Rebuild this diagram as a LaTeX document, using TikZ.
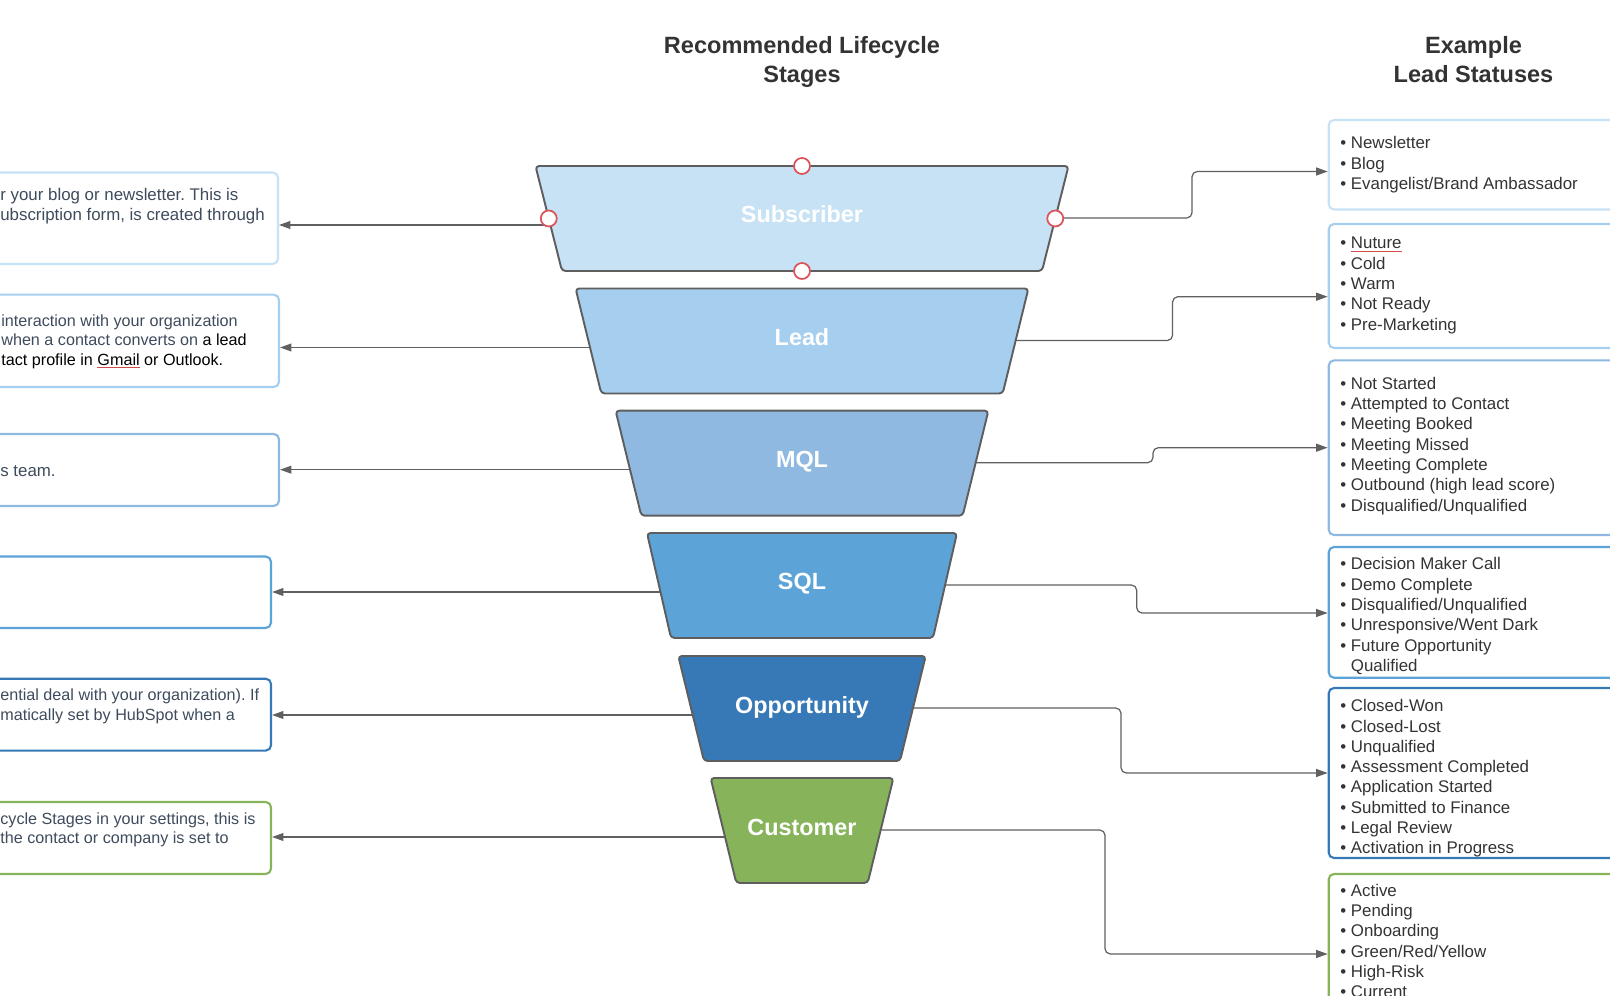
\documentclass[tikz,border=0pt]{standalone}
\usepackage{fontspec}
\setmainfont{Liberation Sans}
\usetikzlibrary{arrows.meta,calc,fit}
\definecolor{cSub}{HTML}{C8E2F5}
\definecolor{cLead}{HTML}{A6CEEF}
\definecolor{cMql}{HTML}{8FB9E1}
\definecolor{cSql}{HTML}{5CA3D8}
\definecolor{cOpp}{HTML}{3779B7}
\definecolor{cCus}{HTML}{87B45A}
\definecolor{cEdge}{HTML}{5E5E5E}
\definecolor{cLine}{HTML}{606060}
\definecolor{cSlate}{HTML}{3E4B5C}
\definecolor{cInk}{HTML}{333333}
\definecolor{cTitle}{HTML}{333333}
\definecolor{cHandle}{HTML}{D9545A}
\definecolor{cSpell}{HTML}{D14B4B}
\newcommand{\spellmark}[2][cInk]{{\color{cSpell}\underline{\color{#1}#2}}}
\frenchspacing
\begin{document}
\begin{tikzpicture}[x=0.02cm, y=-0.02cm, line join=round,
    stage/.style={draw=cEdge, line width=1.1pt, rounded corners=2pt},
    stagelabel/.style={anchor=base, inner sep=0pt, text=white, font=\bfseries\fontsize{13.3}{16}\selectfont},
    lbox/.style={rectangle, rounded corners=3pt, line width=1.2pt, inner sep=0pt},
    ltext/.style={anchor=north west, align=left, inner sep=0pt, text=cSlate, font=\fontsize{9.6}{11.57}\selectfont, execute at begin node=\strut},
    lsmall/.style={ltext, font=\fontsize{9.2}{11.1}\selectfont},
    rtext/.style={ltext, text=cInk},
    ttl/.style={anchor=north, align=center, inner sep=0pt, text=cTitle, font=\bfseries\fontsize{13.4}{16.3}\selectfont, execute at begin node=\strut},
    conn/.style={draw=cLine, line width=0.7pt, -{Triangle[length=6.5pt,width=4.5pt]}},
    handle/.style={circle, draw=cHandle, fill=white, line width=1pt, inner sep=0pt, minimum size=3.2mm}]
\useasboundingbox (0,0) rectangle (1610,996);
\clip (0,0) rectangle (1610,996);
% titles
\node[ttl] (ttlStage) at (802,36.5) {Recommended Lifecycle\\Stages};
\node[ttl] (ttlStatus) at (1473.5,36.5) {Example\\Lead Statuses};
% funnel
\foreach \nm/\lab/\col/\yt/\wt/\wb in {sub/Subscriber/cSub/166/266.5/240, lead/Lead/cLead/288.5/226.4/200.7, mql/MQL/cMql/410.7/186.4/160.7, sql/SQL/cSql/533/155/131, opp/Opportunity/cOpp/656/123.7/98, cus/Customer/cCus/778/91.4/65.7}{
  \draw[stage, fill=\col] (802-\wt,\yt) coordinate (\nm-tl) -- (802+\wt,\yt) coordinate (\nm-tr)
    -- (802+\wb,\yt+105) coordinate (\nm-br) -- (802-\wb,\yt+105) coordinate (\nm-bl) -- cycle;
  \node[stagelabel] (\nm) at (802,\yt+57) {\lab};
  \coordinate (\nm-w) at ($(\nm-tl)!59/105!(\nm-bl)$);
  \coordinate (\nm-e) at ($(\nm-tr)!52/105!(\nm-br)$);
}
% left boxes
\node[lbox, draw=cSub, fit={(-100,172.5) (278,264)}] (lb1) {};
\node[lbox, draw=cLead, fit={(-100,294.7) (279,387)}] (lb2) {};
\node[lbox, draw=cMql, fit={(-100,434) (279,506)}] (lb3) {};
\node[lbox, draw=cSql, fit={(-100,556.5) (271,628)}] (lb4) {};
\node[lbox, draw=cOpp, fit={(-100,678.7) (271,750.6)}] (lb5) {};
\node[lbox, draw=cCus, fit={(-100,802) (271,874)}] (lb6) {};
\node[ltext] (lt1) at (0,188) {r your blog or newsletter. This is\\ubscription form, is created through};
\node[lsmall] (lt2) at (1,314) {interaction with your organization\\when a contact converts on \textcolor{black}{a lead}\\\textcolor{black}{tact profile in \spellmark[black]{Gmail} or Outlook.}};
\node[ltext] (lt3) at (0,462) {s team.};
\node[lsmall] (lt5) at (0,688.5) {ential deal with your organization). If\\matically set by HubSpot when a};
\node[lsmall] (lt6) at (0,812) {cycle Stages in your settings, this is\\the contact or company is set to};
% right boxes
\node[lbox, draw=cSub, fit={(1328.7,120) (1700,209.5)}] (rb1) {};
\node[lbox, draw=cLead, fit={(1328.7,224) (1700,348)}] (rb2) {};
\node[lbox, draw=cMql, fit={(1328.7,360.4) (1700,535)}] (rb3) {};
\node[lbox, draw=cSql, fit={(1328.7,547) (1700,677.7)}] (rb4) {};
\node[lbox, draw=cOpp, fit={(1328.7,688) (1700,858)}] (rb5) {};
\node[lbox, draw=cCus, fit={(1328.7,874) (1700,1100)}] (rb6) {};
\node[rtext] (rt1) at (1340,136.4) {• Newsletter\\• Blog\\• Evangelist/Brand Ambassador};
\node[rtext] (rt2) at (1340,237) {• \spellmark{Nuture}\\• Cold\\• Warm\\• Not Ready\\• Pre-Marketing};
\node[rtext] (rt3) at (1340,376.7) {• Not Started\\• Attempted to Contact\\• Meeting Booked\\• Meeting Missed\\• Meeting Complete\\• Outbound (high lead score)\\• Disqualified/Unqualified};
\node[rtext] (rt4) at (1340,557.4) {• Decision Maker Call\\• Demo Complete\\• Disqualified/Unqualified\\• Unresponsive/Went Dark\\• Future Opportunity\\\hphantom{•\ }Qualified};
\node[rtext] (rt5) at (1340,699.1) {• Closed-Won\\• Closed-Lost\\• Unqualified\\• Assessment Completed\\• Application Started\\• Submitted to Finance\\• Legal Review\\• Activation in Progress};
\node[rtext] (rt6) at (1340,883.7) {• Active\\• Pending\\• Onboarding\\• Green/Red/Yellow\\• High-Risk\\• Current};
% connectors
\foreach \nm/\i in {sub/1,lead/2,mql/3,sql/4,opp/5,cus/6}
  \draw[conn] (\nm-w) -- (\nm-w -| lb\i.east);
\foreach \nm/\i/\xk/\ye in {sub/1/1192/171.5, lead/2/1172.6/296.7, mql/3/1153/447.7, sql/4/1136.7/613, opp/5/1121/773, cus/6/1105/954}
  \draw[conn, rounded corners=3pt] (\nm-e) -| (\xk,\ye) -- (rb\i.west |- 0,\ye);
% selection handles
\node[handle] (hTop) at ($(sub-tl)!.5!(sub-tr)$) {};
\node[handle] (hBot) at ($(sub-bl)!.5!(sub-br)$) {};
\node[handle] (hLeft) at ($(sub-tl)!.5!(sub-bl)$) {};
\node[handle] (hRight) at ($(sub-tr)!.5!(sub-br)$) {};
\end{tikzpicture}
\end{document}
